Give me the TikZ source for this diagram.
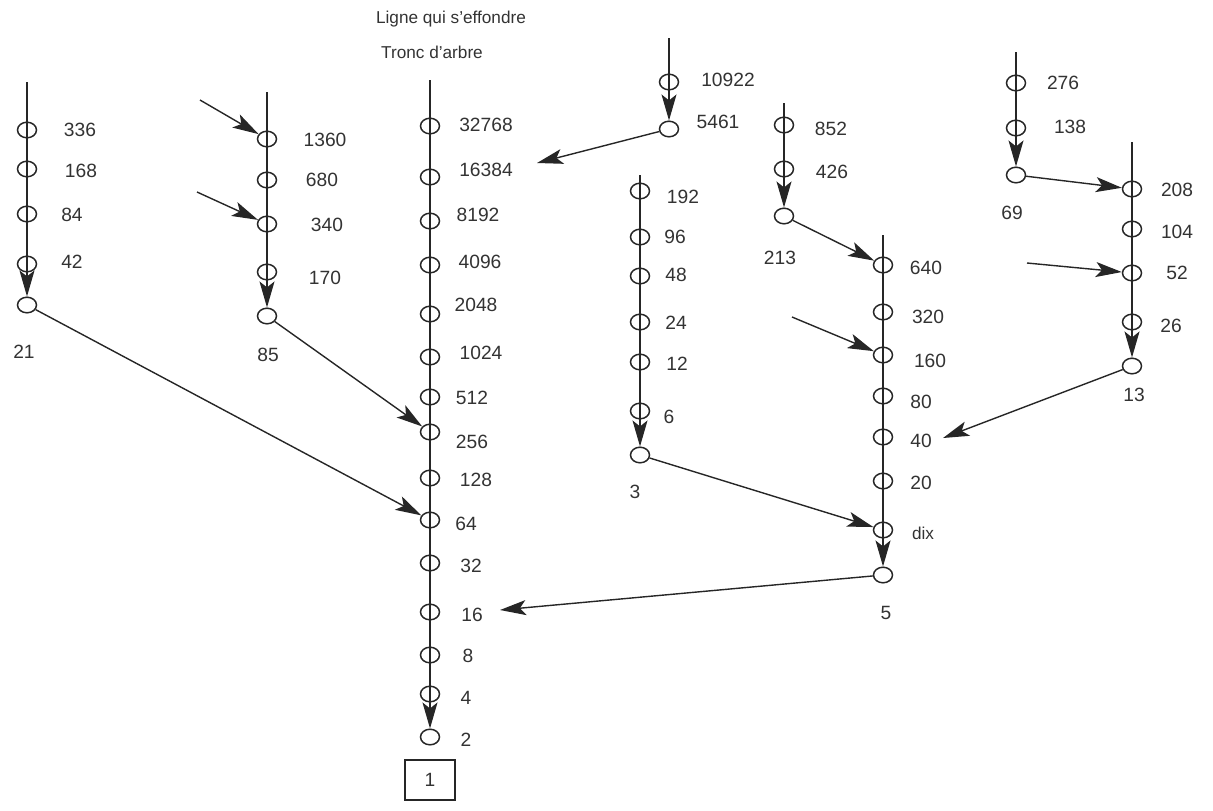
\documentclass[tikz,border=0pt]{standalone}
\usepackage{fontspec}
\setmainfont{Liberation Sans}
\usetikzlibrary{shapes.geometric,arrows.meta}
\tikzset{
  circ/.style={draw=black!85, ellipse, line width=0.75pt, minimum width=9.5pt, minimum height=7.8pt, inner sep=0pt},
  lab/.style={text=black!80, font=\fontsize{9.6}{11}\selectfont, inner sep=0pt},
  smalllab/.style={text=black!80, font=\fontsize{8.6}{10}\selectfont, inner sep=0pt},
  ln/.style={draw=black!85, line width=0.7pt},
  arr/.style={ln, -{Stealth[length=13pt,width=7.5pt,inset=3pt]}},
  boxnode/.style={draw=black!85, line width=0.7pt, minimum width=25pt, minimum height=20pt, inner sep=0pt, text=black!80, font=\fontsize{9.6}{11}\selectfont}
}
\begin{document}
\begin{tikzpicture}[x=0.5pt,y=-0.5pt]
\useasboundingbox (0,0) rectangle (1213,810);

% titles
\node[smalllab] (t1) at (451,19) {Ligne qui s'effondre};
\node[smalllab] (t2) at (432,52) {Tronc d'arbre};

% circles and labels: name / x / y / label x / label y
\foreach \n/\x/\y/\lx/\ly in {
  336/27/130/80/130, 168/27/169/81/171, 84/27/214/72/215, 42/27/264/72/262, 21/27/305/24/352,
  1360/267/139/325/140, 680/267/180/322/180, 340/267/224/327/225, 170/267/272/325/278, 85/267/316/268/355,
  32768/430/126/486/125, 16384/430/177/486/170, 8192/430/221/478/215, 4096/430/265/480/262,
  2048/430/314/476/305, 1024/430/357/481/353, 512/430/397/472/398, 256/430/432/472/442,
  128/430/478/476/480, 64/430/520/466/524, 32/430/563/471/566, 16/430/612/472/615,
  8/430/655/468/656, 4/430/694/466/698, 2/430/737/466/740,
  10922/669/82/728/80, 5461/669/129/718/122,
  192/640/191/683/197, 96/640/237/675/237, 48/640/276/676/275, 24/640/322/676/323,
  12/640/362/677/364, 6/640/411/669/417, 3/640/455/635/492,
  852/784/125/831/129, 426/784/169/832/172, 213/784/216/780/258,
  640/883/265/926/268, 320/883/312/928/317, 160/883/355/930/361, 80/883/396/921/402,
  40/883/437/921/441, 20/883/481/921/483, 5/883/575/886/613,
  276/1016/83/1063/83, 138/1016/128/1070/127, 69/1016/175/1012/213,
  208/1132/189/1177/190, 104/1132/229/1177/232, 52/1132/273/1177/273, 26/1132/322/1171/326, 13/1132/366/1134/395}{
  \node[circ] (c\n) at (\x,\y) {};
  \node[lab] (l\n) at (\lx,\ly) {\n};
}
\node[circ] (cdix) at (883,530) {};
\node[smalllab] (ldix) at (923,533) {dix};

% box
\node[boxnode] (b1) at (430,780) {1};

% free ends
\coordinate (topA) at (27,82);
\coordinate (topB) at (267,92);
\coordinate (topT) at (430,80);
\coordinate (topK) at (669,38);
\coordinate (topD) at (640,175);
\coordinate (topH) at (784,103);
\coordinate (topE) at (883,235);
\coordinate (topF) at (1016,52);
\coordinate (topG) at (1132,142);
\coordinate (in1360) at (200,100);
\coordinate (in340) at (197,192);
\coordinate (in160) at (792,317);
\coordinate (in52) at (1027,263);
\coordinate (end16) at (500,610);
\coordinate (end16384) at (537,163);
\coordinate (end40) at (943,438);

% vertical lines
\draw[ln] (topA) -- (c336.center) -- (c168.center) -- (c84.center) -- (c42.center);
\draw[arr] (c42.center) -- (c21);
\draw[ln] (topB) -- (c1360.center) -- (c680.center) -- (c340.center) -- (c170.center);
\draw[arr] (c170.center) -- (c85);
\draw[ln] (topT) -- (c32768.center) -- (c16384.center) -- (c8192.center) -- (c4096.center)
  -- (c2048.center) -- (c1024.center) -- (c512.center) -- (c256.center) -- (c128.center)
  -- (c64.center) -- (c32.center) -- (c16.center) -- (c8.center) -- (c4.center);
\draw[arr] (c4.center) -- (c2);
\draw[ln] (topK) -- (c10922.center);
\draw[arr] (c10922.center) -- (c5461);
\draw[ln] (topD) -- (c192.center) -- (c96.center) -- (c48.center) -- (c24.center) -- (c12.center) -- (c6.center);
\draw[arr] (c6.center) -- (c3);
\draw[ln] (topH) -- (c852.center) -- (c426.center);
\draw[arr] (c426.center) -- (c213);
\draw[ln] (topE) -- (c640.center) -- (c320.center) -- (c160.center) -- (c80.center) -- (c40.center) -- (c20.center) -- (cdix.center);
\draw[arr] (cdix.center) -- (c5);
\draw[ln] (topF) -- (c276.center) -- (c138.center);
\draw[arr] (c138.center) -- (c69);
\draw[ln] (topG) -- (c208.center) -- (c104.center) -- (c52.center) -- (c26.center);
\draw[arr] (c26.center) -- (c13);

% side arrows
\draw[arr] (in1360) -- (c1360);
\draw[arr] (in340) -- (c340);
\draw[arr] (in160) -- (c160);
\draw[arr] (in52) -- (c52);

% cross arrows
\draw[arr] (c21) -- (c64);
\draw[arr] (c85) -- (c256);
\draw[arr] (c5461) -- (end16384);
\draw[arr] (c213) -- (c640);
\draw[arr] (c69) -- (c208);
\draw[arr] (c3) -- (cdix);
\draw[arr] (c5) -- (end16);
\draw[arr] (c13) -- (end40);
\end{tikzpicture}
\end{document}
